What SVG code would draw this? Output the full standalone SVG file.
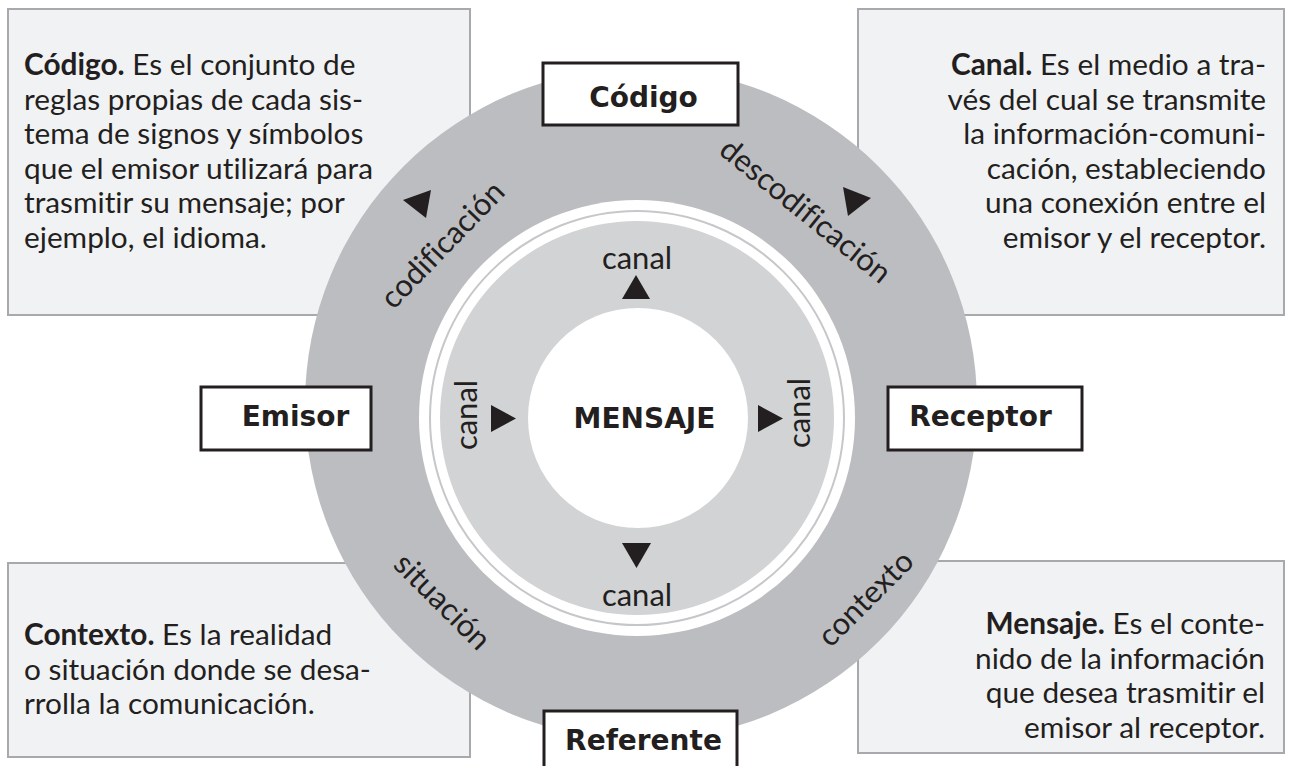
<svg xmlns="http://www.w3.org/2000/svg" width="1291" height="766" viewBox="0 0 1291 766">
<style>
.box{fill:#f1f2f4;stroke:#a7a9ac;stroke-width:2}
.body{font-family:Lato,"Liberation Sans",sans-serif;font-size:29.8px;fill:#231f20;font-variant-ligatures:none}
.body .b{font-weight:bold}
.ring{font-family:Lato,"Liberation Sans",sans-serif;font-size:31px;fill:#231f20;font-variant-ligatures:none}
.node rect{fill:#fff;stroke:#231f20;stroke-width:3}
.node text{font-family:"DejaVu Sans",Verdana,sans-serif;font-weight:bold;font-size:28px;fill:#231f20;text-anchor:middle}
.tri{fill:#231f20}
</style>
<g id="desc-codigo">
<rect class="box" x="8" y="9" width="462" height="306"/>
<text class="body"><tspan x="24" y="75"><tspan class="b">Código.</tspan> Es el conjunto de</tspan><tspan x="24" y="109.5">reglas propias de cada sis-</tspan><tspan x="24" y="144">tema de signos y símbolos</tspan><tspan x="24" y="178.5">que el emisor utilizará para</tspan><tspan x="24" y="213">trasmitir su mensaje; por</tspan><tspan x="24" y="247.5">ejemplo, el idioma.</tspan></text>
</g>
<g id="desc-canal">
<rect class="box" x="858" y="9" width="426" height="306"/>
<text class="body" text-anchor="end"><tspan x="1266" y="75"><tspan class="b">Canal.</tspan> Es el medio a tra-</tspan><tspan x="1266" y="109.5">vés del cual se transmite</tspan><tspan x="1266" y="144">la información-comuni-</tspan><tspan x="1266" y="178.5">cación, estableciendo</tspan><tspan x="1266" y="213">una conexión entre el</tspan><tspan x="1266" y="247.5">emisor y el receptor.</tspan></text>
</g>
<g id="desc-contexto">
<rect class="box" x="8" y="563" width="462" height="194"/>
<text class="body"><tspan x="24" y="645"><tspan class="b">Contexto.</tspan> Es la realidad</tspan><tspan x="24" y="679.5">o situación donde se desa-</tspan><tspan x="24" y="714">rrolla la comunicación.</tspan></text>
</g>
<g id="desc-mensaje">
<rect class="box" x="858" y="561" width="426" height="192"/>
<text class="body" text-anchor="end"><tspan x="1265" y="634"><tspan class="b">Mensaje.</tspan> Es el conte-</tspan><tspan x="1265" y="668.5">nido de la información</tspan><tspan x="1265" y="703">que desea trasmitir el</tspan><tspan x="1265" y="737.5">emisor al receptor.</tspan></text>
</g>
<g id="circle">
<circle cx="641" cy="404" r="336" fill="#bcbdc0"/>
<circle cx="637" cy="418" r="218" fill="#fff"/>
<circle cx="637" cy="418" r="207" fill="none" stroke="#c6c7c9" stroke-width="2"/>
<circle cx="637" cy="418" r="197" fill="#d1d3d4"/>
<circle cx="638" cy="418" r="110" fill="#fff"/>
</g>
<g id="ring-labels" class="ring" text-anchor="middle">
<text transform="translate(450,252) rotate(-46)">codificación</text>
<text transform="translate(799,219) rotate(39)">descodificación</text>
<text transform="translate(435,609) rotate(45)">situación</text>
<text transform="translate(873,606) rotate(-45)">contexto</text>
<text x="637" y="269">canal</text>
<text x="637" y="606">canal</text>
<text transform="translate(477,415) rotate(-90)">canal</text>
<text transform="translate(810,413) rotate(-90)">canal</text>
</g>
<g id="connectors" class="tri">
<polygon points="636,275 622,299 650,299"/>
<polygon points="622,543 651,543 636.5,568"/>
<polygon points="491,405 491,432 516,418.5"/>
<polygon points="758,405 758,432 783,418.5"/>
<polygon points="403,200 431,190 426,218"/>
<polygon points="843,187 871,198 848,216"/>
</g>
<g id="mensaje" class="node"><text x="644.5" y="428" font-size="29">MENSAJE</text></g>
<g id="codigo" class="node"><rect x="543" y="63" width="195" height="62"/><text x="643.5" y="107">Código</text></g>
<g id="emisor" class="node"><rect x="201" y="387" width="170" height="63"/><text x="295.5" y="426">Emisor</text></g>
<g id="receptor" class="node"><rect x="888" y="387" width="194" height="63"/><text x="980.5" y="426">Receptor</text></g>
<g id="referente" class="node"><rect x="544" y="711" width="193" height="70"/><text x="643.5" y="750">Referente</text></g>
</svg>
